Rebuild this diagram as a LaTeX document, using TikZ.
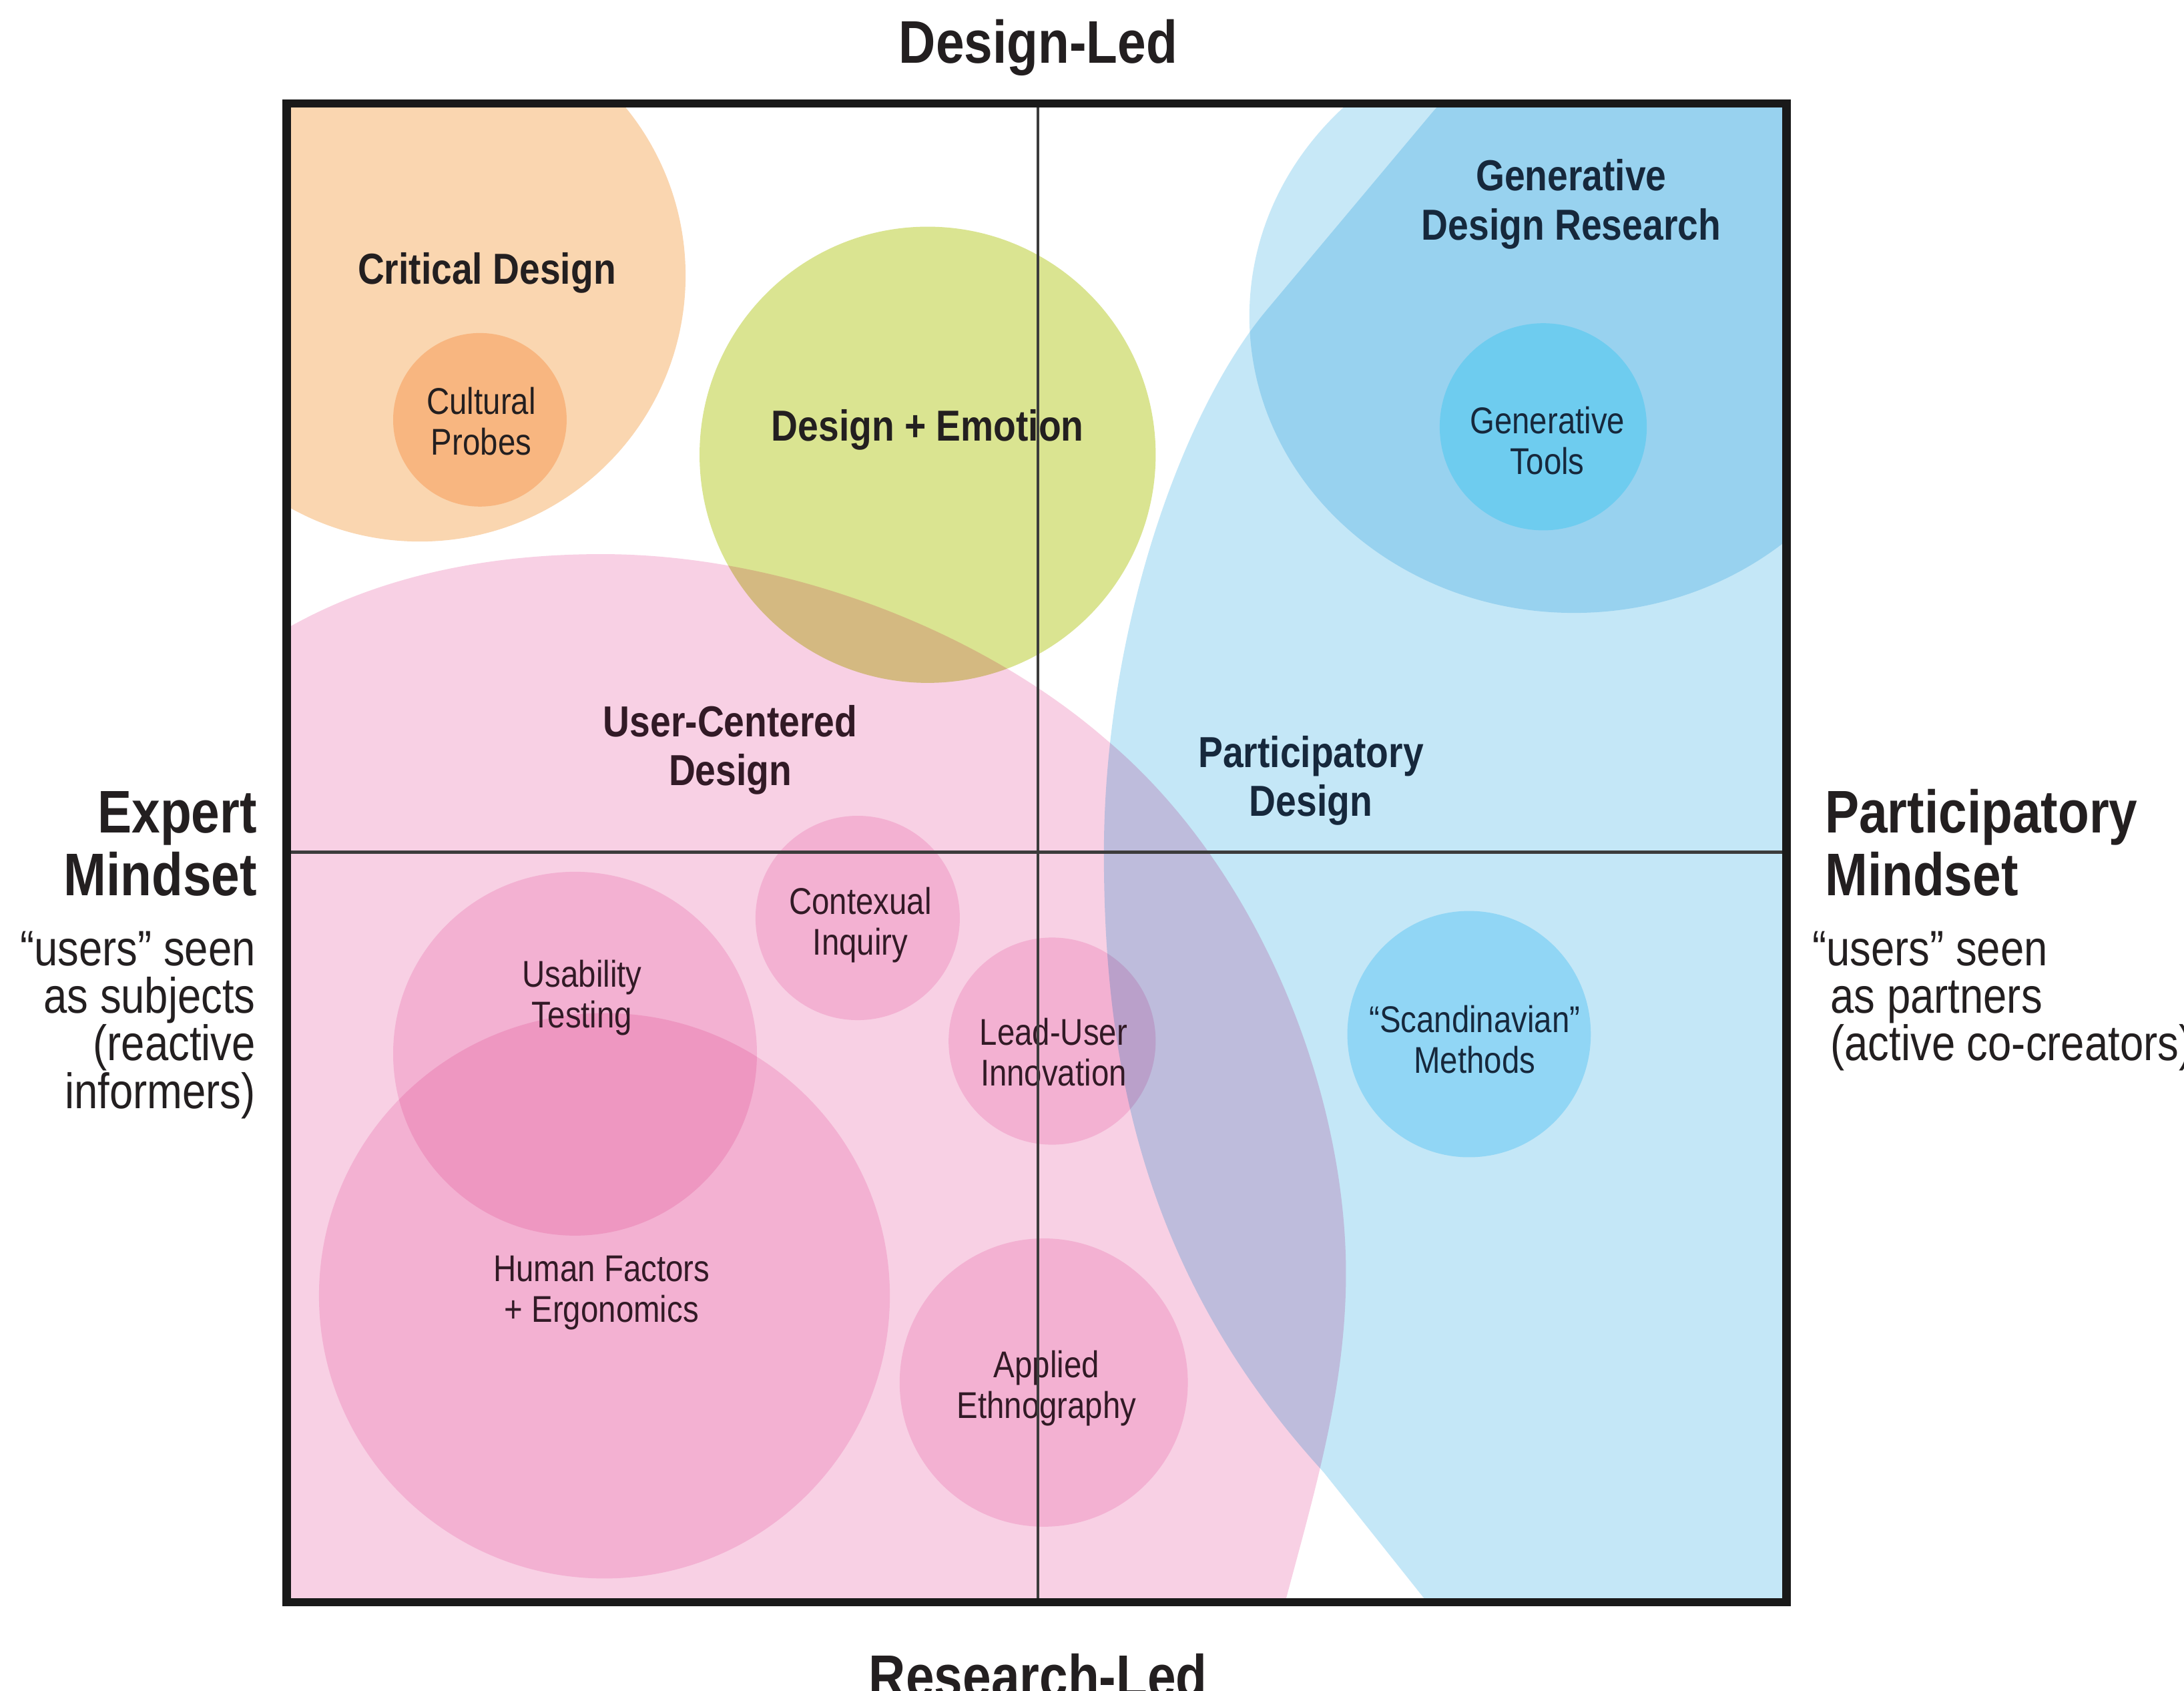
\documentclass[tikz,border=0pt]{standalone}
\usepackage{fontspec}
\setmainfont{Liberation Sans}[FakeStretch=0.85]
\definecolor{cCrit}{RGB}{250,214,176}
\definecolor{cProbe}{RGB}{253,218,186}
\definecolor{cEmo}{RGB}{218,228,145}
\definecolor{cUCD}{RGB}{248,208,228}
\definecolor{cPinkC}{RGB}{250,218,235}
\definecolor{cPart}{RGB}{196,231,247}
\definecolor{cGDR}{RGB}{199,232,247}
\definecolor{cGTool}{RGB}{185,248,255}
\definecolor{cScan}{RGB}{189,237,253}
\definecolor{txt}{RGB}{35,31,32}
\definecolor{txtp}{RGB}{50,26,38}
\definecolor{txtb}{RGB}{22,40,60}
\definecolor{axis}{RGB}{60,60,60}
\tikzset{
  biglabel/.style={font=\fontsize{21.5}{23}\selectfont\bfseries, text=txt, inner sep=0pt},
  desclabel/.style={font=\fontsize{17.8}{17}\selectfont, text=txt, inner sep=0pt},
  midlabel/.style={font=\fontsize{15.5}{17.5}\selectfont\bfseries, align=center, inner sep=0pt},
  smalllabel/.style={font=\fontsize{13.3}{14.5}\selectfont, align=center, inner sep=0pt},
}
\begin{document}
\begin{tikzpicture}[x=0.5pt,y=-0.5pt]
\useasboundingbox (0,0) rectangle (1561,1208.4);
\fill[white] (0,0) rectangle (1561,1208.4);
\begin{scope}
\clip (205,74) rectangle (1277,1145);
\begin{scope}[blend mode=multiply]
% Critical design
\fill[cCrit] (300,197) circle [radius=190];
\fill[cProbe] (343,300) circle [radius=62];
% Design + Emotion
\fill[cEmo] (663,325) circle [radius=163];
% User-centered design
\fill[cUCD] (150,470) -- (195,455)
  .. controls (260,415) and (340,396) .. (430,396)
  .. controls (560,396) and (700,450) .. (790,528)
  .. controls (900,620) and (962,780) .. (962,910)
  .. controls (962,1000) and (935,1080) .. (912,1170)
  -- (150,1170) -- cycle;
% Participatory design
\fill[cPart] (1060,40) -- (1024,80) -- (905,222)
  .. controls (845,294) and (789,450) .. (789,610)
  .. controls (789,760) and (817,911) .. (946,1052)
  -- (1040,1170) -- (1320,1170) -- (1320,40) -- cycle;
% Generative design research
\fill[cGDR] (1125,226) ellipse [x radius=232, y radius=212];
\fill[cGTool] (1103,305) circle [radius=74];
% Scandinavian
\fill[cScan] (1050,739) ellipse [x radius=87, y radius=88];
% pink circles
\fill[cPinkC] (613,656) circle [radius=73];
\fill[cPinkC] (411,753) circle [radius=130];
\fill[cPinkC] (432,926) ellipse [x radius=204, y radius=202];
\fill[cPinkC] (752,744) circle [radius=74];
\fill[cPinkC] (746,988) circle [radius=103];
\end{scope}
\end{scope}
% axis titles
\node[biglabel, anchor=base] (dl) at (742,45) {Design-Led};
\node[biglabel, anchor=base] (rl) at (742,1213) {Research-Led};
\node[biglabel, anchor=base east] (ex1) at (184,595) {Expert};
\node[biglabel, anchor=base east] (ex2) at (184,640) {Mindset};
\node[desclabel, anchor=base east] (ed1) at (183,690) {“users” seen};
\node[desclabel, anchor=base east] (ed2) at (183,724) {as subjects};
\node[desclabel, anchor=base east] (ed3) at (183,758) {(reactive};
\node[desclabel, anchor=base east] (ed4) at (183,792) {informers)};
\node[biglabel, anchor=base west] (pm1) at (1304,595) {Participatory};
\node[biglabel, anchor=base west] (pm2) at (1304,640) {Mindset};
\node[desclabel, anchor=base west] (pd1) at (1295,690) {“users” seen};
\node[desclabel, anchor=base west] (pd2) at (1308,724) {as partners};
\node[desclabel, anchor=base west] (pd3) at (1308,758) {(active co-creators)};
% region labels
\node[midlabel, text=txt, anchor=base] (crit) at (348,203) {Critical Design};
\node[smalllabel, text=txt] (probe) at (344,301) {Cultural\\Probes};
\node[midlabel, text=txt, anchor=base] (emo) at (663,315) {Design + Emotion};
\node[midlabel, text=txtb] (gdr) at (1123,146) {Generative\\Design Research};
\node[smalllabel, text=txtb] (gtool) at (1106,315) {Generative\\Tools};
\node[midlabel, text=txtp] (ucd) at (522,536) {User-Centered\\Design};
\node[midlabel, text=txtb] (pdes) at (937,558) {Participatory\\Design};
\node[smalllabel, text=txtp] (ci) at (615,661) {Contexual\\Inquiry};
\node[smalllabel, text=txtp] (ut) at (416,713) {Usability\\Testing};
\node[smalllabel, text=txtp] (lui) at (753,752) {Lead-User\\Innovation};
\node[smalllabel, text=txtp] (hf) at (430,924) {Human Factors\\+ Ergonomics};
\node[smalllabel, text=txtp] (ae) at (748,992) {Applied\\Ethnography};
\node[smalllabel, text=txtb] (sm) at (1054,743) {“Scandinavian”\\Methods};
% axes and frame
\coordinate (vt) at (742,74);
\coordinate (vb) at (742,1145);
\coordinate (hl) at (205,609);
\coordinate (hr) at (1277,609);
\draw[axis, line width=1pt] (vt) -- (vb);
\draw[axis, line width=1pt] (hl) -- (hr);
\draw[black!90, line width=3pt] (205,74) rectangle (1277,1145);
\end{tikzpicture}
\end{document}
